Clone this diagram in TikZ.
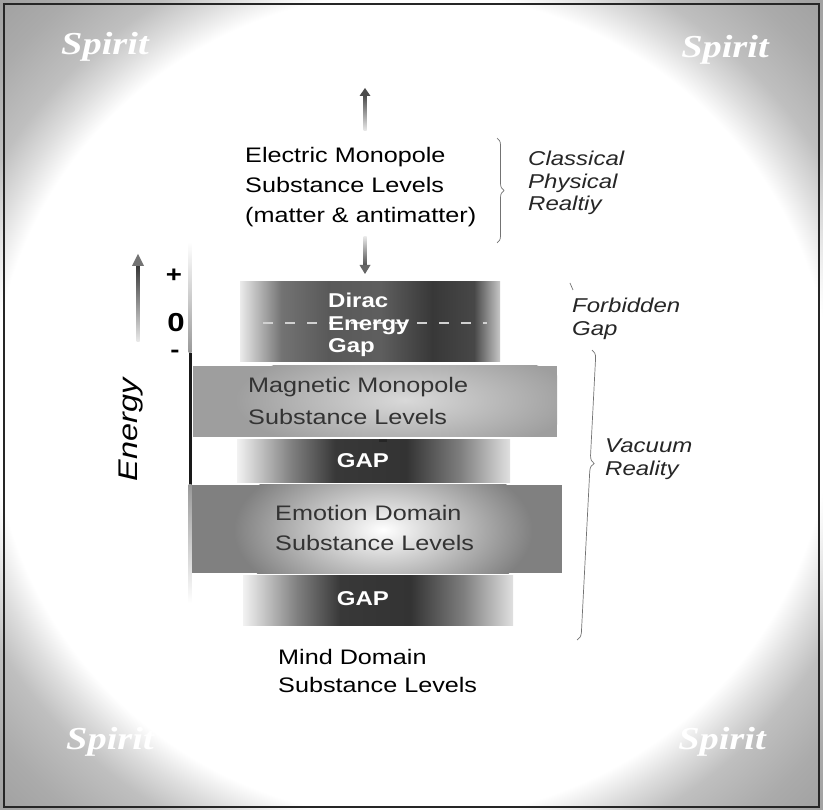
\documentclass[tikz,border=0pt]{standalone}
\usepackage{fontspec}
\setmainfont{Liberation Sans}[FakeStretch=1.2]
\newfontfamily\spiritfont{Liberation Serif}[FakeStretch=1.2]
\usetikzlibrary{decorations.pathreplacing}
\pgfdeclareradialshading{bgsh}{\pgfpoint{0bp}{0bp}}{color(0bp)=(white); color(25.5bp)=(white); color(27.3bp)=(black!13); color(29.2bp)=(black!25); color(32.5bp)=(black!33); color(36bp)=(black!38); color(50bp)=(black!40)}
\pgfdeclarehorizontalshading{gapsh}{100bp}{color(0bp)=(black!5); color(25bp)=(black!5); color(35bp)=(black!50); color(43bp)=(black!78); color(56bp)=(black!80); color(66bp)=(black!50); color(75bp)=(black!12); color(100bp)=(black!12)}
\pgfdeclarehorizontalshading{diracsh}{100bp}{color(0bp)=(black!8); color(25bp)=(black!8); color(33bp)=(black!55); color(42bp)=(black!65); color(52bp)=(black!63); color(62bp)=(black!78); color(70bp)=(black!72); color(75bp)=(black!22); color(100bp)=(black!22)}
\tikzset{
  box/.style={inner sep=0pt, outer sep=0pt},
  lbl/.style={inner sep=0pt, align=left, anchor=west, font=\fontsize{21}{30}\selectfont},
  boxtxt/.style={lbl, text=black!80},
  whitetxt/.style={inner sep=0pt, text=white, font=\fontsize{20}{22.5}\selectfont\bfseries},
  side/.style={inner sep=0pt, align=left, anchor=west, text=black!85, font=\fontsize{20}{22.5}\selectfont\itshape},
  spirit/.style={inner sep=0pt, text=white, font=\spiritfont\fontsize{32}{32}\selectfont\bfseries\itshape},
  sign/.style={inner sep=0pt, font=\fontsize{23}{23}\selectfont\bfseries},
  brace/.style={draw=black!55, line width=0.7pt, decorate},
}
\begin{document}
\begin{tikzpicture}[x=1pt,y=-1pt]
\useasboundingbox (0,0) rectangle (823,810);
% background
\shade[shading=bgsh] (0,0) rectangle (823,810);
\draw[black!85, line width=1.5pt] (4,4) rectangle (819,807);
% Spirit labels
\node[spirit] (sp1) at (105,47) {Spirit};
\node[spirit] (sp2) at (725,50) {Spirit};
\node[spirit] (sp3) at (110,742) {Spirit};
\node[spirit] (sp4) at (722,742) {Spirit};
% boxes
\node[box, shade, shading=diracsh, minimum width=260pt, minimum height=80pt] (dirac) at (370,322) {};
\draw[white!82!black, line width=2.5pt, dash pattern=on 10pt off 12pt] (263,323) -- (487,323);
\node[box, fill=black!38, minimum width=364pt, minimum height=71pt] (mag) at (375,401.5) {};
\begin{scope}
  \clip (mag.south west) rectangle (mag.north east);
  \shade[inner color=black!15, outer color=black!38] (405,400) ellipse [x radius=170pt, y radius=55pt];
\end{scope}
\node[box, shade, shading=gapsh, minimum width=273pt, minimum height=43pt] (gap1) at (373.5,461.5) {};
\fill[black!85] (379,439) rectangle (387,442);
\node[box, fill=black!50, minimum width=370pt, minimum height=88pt] (emo) at (377,529) {};
\begin{scope}
  \clip (emo.south west) rectangle (emo.north east);
  \shade[inner color=white, outer color=black!50] (383,530) ellipse [x radius=150pt, y radius=80pt];
\end{scope}
\node[box, shade, shading=gapsh, minimum width=270pt, minimum height=50pt] (gap2) at (378,600) {};
% energy axis line
\shade[top color=white, bottom color=black!40] (188.5,242) rectangle (191.5,353);
\fill[black!90] (188.5,353) rectangle (191.5,485);
\shade[top color=black!40, bottom color=white] (188.5,485) rectangle (191.5,603);
% texts
\node[lbl] (elec) at (245,187) {Electric Monopole\\Substance Levels\\(matter \& antimatter)};
\node[whitetxt, align=left, anchor=west] (diractxt) at (328,325) {Dirac\\Energy\\Gap};
\node[boxtxt, font=\fontsize{21}{32}\selectfont] (magtxt) at (248,401) {Magnetic Monopole\\Substance Levels};
\node[whitetxt] (gaptxt1) at (363,461) {GAP};
\node[boxtxt] (emotxt) at (275,528) {Emotion Domain\\Substance Levels};
\node[whitetxt] (gaptxt2) at (363,599) {GAP};
\node[lbl, font=\fontsize{21}{28}\selectfont] (mind) at (278,671) {Mind Domain\\Substance Levels};
% side labels
\node[side] (classical) at (528,183) {Classical\\Physical\\Realtiy};
\node[side] (forbidden) at (572,319) {Forbidden\\Gap};
\node[side] (vacuum) at (605,459) {Vacuum\\Reality};
% signs
\node[sign] (plus) at (174,276) {+};
\node[sign, font=\fontsize{26}{26}\selectfont\bfseries] (zero) at (176,323) {0};
\node[sign] (minus) at (175,354) {-};
\node[inner sep=0pt, rotate=90, font=\fontsize{27}{27}\selectfont\itshape] (energy) at (131,430) {Energy};
% arrows
\shade[top color=black!75, bottom color=black!8] (363.5,93) rectangle (366.5,131);
\fill[black!70] (365,88) -- (370.5,96) -- (359.5,96) -- cycle;
\shade[top color=black!10, bottom color=black!70] (363.5,237) rectangle (366.5,266);
\fill[black!60] (365,274) -- (370.5,265) -- (359.5,265) -- cycle;
\shade[top color=black!80, bottom color=black!8] (136.5,264) rectangle (139.5,342);
\fill[black!55] (138,254) -- (144,266) -- (132,266) -- cycle;
% braces
\draw[brace, decoration={brace, amplitude=7pt}] (497,138) -- (497,243);
\draw[brace, decoration={brace, amplitude=8pt, aspect=0.39}] (592,350) -- (577,640);
\draw[black!55, line width=0.7pt] (570,283) -- (573,290);
\end{tikzpicture}
\end{document}
